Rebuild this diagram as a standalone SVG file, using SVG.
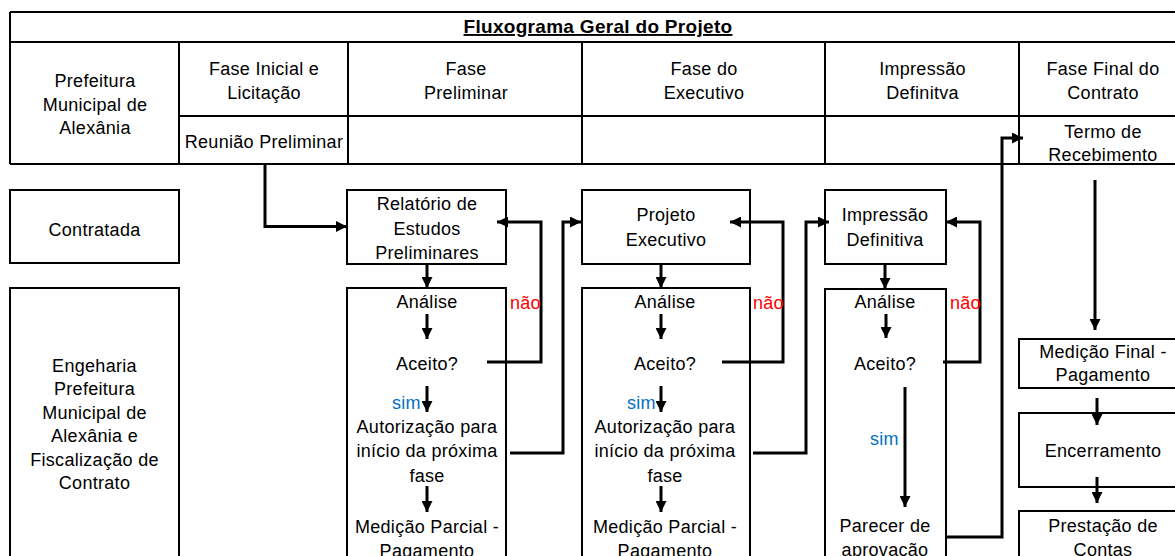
<svg xmlns="http://www.w3.org/2000/svg" width="1175" height="556" viewBox="0 0 1175 556">
<style>
text{font-family:"Liberation Sans",Arial,sans-serif;font-size:18px;letter-spacing:0.3px;fill:#000;text-anchor:middle}
.title{font-weight:bold;font-size:19px;text-decoration:underline}
.tl{stroke:#000;stroke-width:2;fill:none}
.box{stroke:#000;stroke-width:2;fill:#fff}
.c{stroke:#000;stroke-width:3;fill:none}
.ca{stroke:#000;stroke-width:3;fill:none;marker-end:url(#ah)}
.no{fill:#FF0000;text-anchor:start}
.yes{fill:#0070C0;text-anchor:start}
</style>
<defs>
<marker id="ah" viewBox="0 0 10 10" refX="10" refY="5" markerWidth="11" markerHeight="11" markerUnits="userSpaceOnUse" orient="auto"><path d="M0,0 L10,5 L0,10 z" fill="#000"/></marker>
</defs>
<rect width="1175" height="556" fill="#fff"/>

<g id="table">
<path class="tl" d="M10,12 H1180 M10,12 V164 M10,42 H1180 M179,42 V164 M348,42 V164 M582,42 V164 M825,42 V164 M1019,42 V164 M179,116 H1180 M10,164 H1180"/>
</g>
<g id="title"><text class="title" x="598" y="33">Fluxograma Geral do Projeto</text></g>
<g id="prefeitura"><text x="95" y="87">Prefeitura</text><text x="95" y="110.5">Municipal de</text><text x="95" y="134">Alexânia</text></g>
<g id="fase-inicial"><text x="264" y="75">Fase Inicial e</text><text x="264" y="99">Licitação</text></g>
<g id="reuniao"><text x="264" y="148">Reunião Preliminar</text></g>
<g id="fase-preliminar"><text x="466" y="74.5">Fase</text><text x="466" y="99">Preliminar</text></g>
<g id="fase-executivo"><text x="704" y="74.5">Fase do</text><text x="704" y="99">Executivo</text></g>
<g id="impressao-def-header"><text x="922.5" y="74.5">Impressão</text><text x="922.5" y="99">Definitva</text></g>
<g id="fase-final"><text x="1103" y="74.5">Fase Final do</text><text x="1103" y="99">Contrato</text></g>
<g id="termo"><text x="1103" y="138">Termo de</text><text x="1103" y="161">Recebimento</text></g>

<g id="contratada"><rect class="box" x="10" y="190" width="169" height="73"/><text x="94.5" y="236">Contratada</text></g>
<g id="engenharia"><rect class="box" x="10" y="288" width="169" height="290"/>
<text x="94.5" y="371.5">Engeharia</text><text x="94.5" y="395">Prefeitura</text><text x="94.5" y="418.5">Municipal de</text><text x="94.5" y="442">Alexânia e</text><text x="94.5" y="465.5">Fiscalização de</text><text x="94.5" y="489">Contrato</text></g>

<g id="relatorio"><rect class="box" x="347" y="190" width="159" height="74"/><text x="427" y="210">Relatório de</text><text x="427" y="235">Estudos</text><text x="427" y="259">Preliminares</text></g>
<g id="analise1"><rect class="box" x="347" y="288" width="159" height="290"/>
<text x="427" y="308">Análise</text><text x="427" y="370">Aceito?</text><text x="427" y="433">Autorização para</text><text x="427" y="457">início da próxima</text><text x="427" y="482">fase</text><text x="427" y="533">Medição Parcial -</text><text x="427" y="557">Pagamento</text></g>

<g id="projeto"><rect class="box" x="582" y="190" width="168" height="74"/><text x="666" y="221">Projeto</text><text x="666" y="246">Executivo</text></g>
<g id="analise2"><rect class="box" x="582" y="288" width="168" height="290"/>
<text x="665" y="308">Análise</text><text x="665" y="370">Aceito?</text><text x="665" y="433">Autorização para</text><text x="665" y="457">início da próxima</text><text x="665" y="482">fase</text><text x="665" y="533">Medição Parcial -</text><text x="665" y="557">Pagamento</text></g>

<g id="impressao"><rect class="box" x="825" y="190" width="121" height="74"/><text x="885" y="221">Impressão</text><text x="885" y="246">Definitiva</text></g>
<g id="analise3"><rect class="box" x="825" y="289" width="121" height="290"/>
<text x="885" y="308">Análise</text><text x="885" y="370">Aceito?</text><text x="885" y="532">Parecer de</text><text x="885" y="556">aprovação</text></g>

<g id="medicao-final"><rect class="box" x="1019" y="339" width="170" height="49"/><text x="1103" y="358">Medição Final -</text><text x="1103" y="381">Pagamento</text></g>
<g id="encerramento"><rect class="box" x="1019" y="413" width="170" height="74"/><text x="1103" y="457">Encerramento</text></g>
<g id="prestacao"><rect class="box" x="1019" y="511" width="170" height="70"/><text x="1103" y="532">Prestação de</text><text x="1103" y="556">Contas</text></g>

<g id="connectors">
<path class="ca" d="M265,164 V226.5 H347"/>
<path class="ca" d="M427,264 V288"/>
<path class="ca" d="M427,314 V339"/>
<path class="ca" d="M427,386 V412"/>
<path class="ca" d="M427,486 V512"/>
<path class="ca" d="M487,362 H541 V222 H497"/>
<path class="ca" d="M510,453 H563 V222 H581"/>
<path class="ca" d="M661,264 V288"/>
<path class="ca" d="M661,314 V339"/>
<path class="ca" d="M661,386 V412"/>
<path class="ca" d="M661,486 V512"/>
<path class="ca" d="M722,362 H783 V222 H730"/>
<path class="ca" d="M753,453 H806 V222 H829"/>
<path class="ca" d="M885,264 V289"/>
<path class="ca" d="M886,314 V338"/>
<path class="ca" d="M905,387 V507"/>
<path class="ca" d="M943,362 H980 V222 H946"/>
<path class="ca" d="M947,537 H1002 V138 H1023"/>
<path class="ca" d="M1095,180 V330"/>
<path class="ca" d="M1097,398 V425"/>
<path class="ca" d="M1097,477 V503"/>
</g>
<g id="labels">
<text class="no" x="510" y="309">não</text>
<text class="no" x="753" y="309">não</text>
<text class="no" x="950" y="309">não</text>
<text class="yes" x="392" y="409">sim</text>
<text class="yes" x="627" y="409">sim</text>
<text class="yes" x="870" y="445">sim</text>
</g>
</svg>
